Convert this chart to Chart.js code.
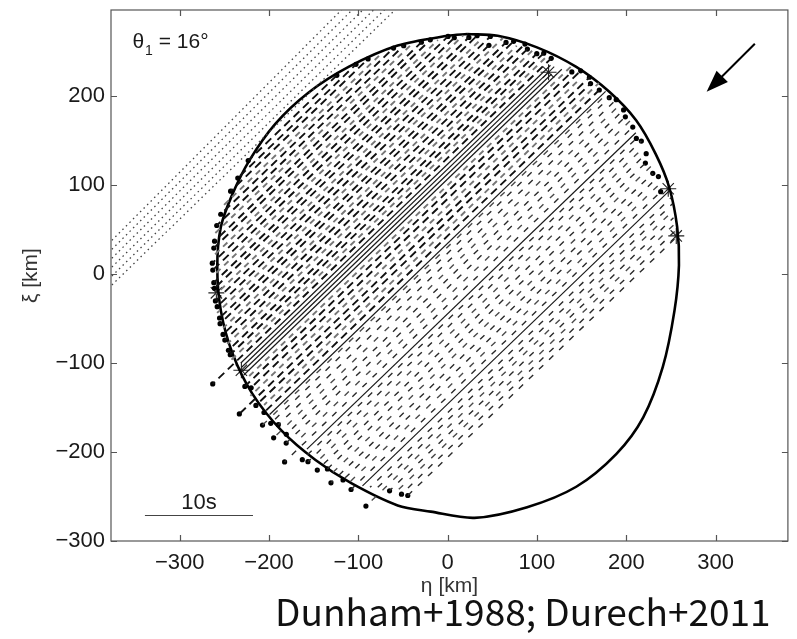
<!DOCTYPE html>
<html>
<head>
<meta charset="utf-8">
<title>Occultation chords</title>
<script src="https://cdn.jsdelivr.net/npm/chart.js@4"></script>
<style>
body{margin:0;background:#fff;}
#wrap{position:relative;width:797px;height:639px;}
#cite{position:absolute;left:275px;top:592px;font-family:"Noto Sans CJK JP","Noto Sans",sans-serif;font-size:37px;line-height:1;color:#111;white-space:nowrap;}
</style>
</head>
<body>
<div id="wrap"><canvas id="c"></canvas><div id="cite">Dunham+1988; Durech+2011</div></div>
<script>
// axis ranges (km)
const ETA_MIN = -377, ETA_MAX = 381;
const XI_MIN = -300, XI_MAX = 297;
const X_TICKS = [-300, -200, -100, 0, 100, 200, 300];
const Y_TICKS = [-300, -200, -100, 0, 100, 200];

// limb profile fitted to the chords (eta, xi in km)
const OUTLINE_ETA = [22, 56, 100, 144, 181, 211, 233, 248, 257, 259, 254, 241, 219, 189, 144, 89, 30, -19, -56, -108, -148, -186, -219, -241, -254, -258, -254, -241, -222, -193, -156, -111, -56, 0, 22];
const OUTLINE_XI  = [270, 268, 255, 233, 205, 173, 135, 98, 53, 10, -41, -104, -161, -202, -239, -262, -274, -267, -260, -235, -209, -176, -134, -89, -41, 8, 53, 90, 128, 169, 204, 233, 257, 268, 270];

// chords, in the track frame: offset across track (d) and start/end along track (t), km
const TRACK_ANGLE = 44; // deg, direction of the chords in the eta-xi plane
const CHORD_D  = [-148, -142, -136, -130, -124, -118, -112, -105,
  -99, -92, -85, -78, -71, -64, -57, -50, -43, -37, -32,
  -25, -18, -11, -4, 3, 10, 17, 22, 25,
  31, 37, 43, 49, 55, 61, 67, 72,
  77, 81, 85, 89,
  94, 99, 104, 109, 115, 120, 126, 131, 137, 142, 148, 153, 159, 164, 170, 175, 181, 186, 192, 197, 203, 208, 214, 219, 225, 230, 236, 241, 247];
const CHORD_T0 = [-205, -209, -213, -216, -247, -225, -229, -234,
  -246, -250, -245, -257, -255, -249, -258, -252, -259, -262, -250,
  -278, -252, -262, -255, -268, -254, -259, -267, -253,
  -256, -250, -257, -277, -254, -247, -251, -245,
  -243, -241, -239, -236,
  -275, -242, -238, -236, -232, -231, -228, -223, -222, -218, -216, -211, -208, -202, -199, -195, -190, -186, -181, -174, -168, -162, -155, -148, -136, -126, -110, -94, -72];
const CHORD_T1 = [212, 217, 221, 226, 231, 236, 240, 244,
  236, 240, 246, 244, 250, 246, 254, 256, 260, 258, 262,
  264, 268, 266, 270, 265, 272, 268, 270, 270,
  266, 271, 264, 268, 260, 266, 258, 263,
  252, 240, 239, 246,
  252, 247, 250, 244, 246, 240, 242, 234, 235, 228, 229, 212, 220, 212, 210, 202, 199, 190, 186, 175, 169, 160, 151, 143, 133, 120, 104, 90, 66];
// s = solid (timed), d = dashed (visual), g = dashed, lower weight
const CHORD_KIND = ['d','d','g','d','g','d','d','s',
  'd','g','d','d','g','d','d','g','d','d','s',
  'd','g','d','d','g','d','d','g','s',
  'd','g','d','d','g','d','d','g',
  's','s','s','s',
  'd','g','d','d','g','d','d','g','d','d','g','d','d','g','d','d','g','d','d','g','d','d','g','d','d','g','d','d','d'];
// timing dots: 0 none, 1 disappearance only, 2 both ends
const CHORD_DOTS = [1,1,0,1,1,0,0,0,
  2,0,2,2,0,2,2,0,2,2,0,
  2,0,2,2,1,2,2,1,0,
  2,0,2,2,0,2,2,0,
  0,0,0,0,
  2,0,2,2,0,2,2,0,2,2,0,2,2,0,2,2,0,2,2,0,2,2,0,2,2,0,2,2,2];

// negative (miss) chords: from the left edge to the top edge
const MISS_ETA_LEFT = -380;
const MISS_XI_LEFT  = [-16, -6, 4, 14, 24, 34];
const MISS_XI_TOP   = 300;
const MISS_ETA_TOP  = [-56, -68, -80, -92, -104, -116];

// asterisks: contact points of timed chords
const STAR_ETA = [113, -259, 247, 256, -231];
const STAR_XI  = [227, -21, 96, 43, -108];

// annotations (data coordinates)
const ARROW_TAIL = [344, 259], ARROW_TIP = [290, 205];
const THETA_POS = [-353, 254];
const SCALE_BAR = [-339, -218, -271]; // eta from, eta to, xi
const SCALE_LABEL = '10s';

const rad = TRACK_ANGLE * Math.PI / 180;
function toEtaXi(d, t) {
  return {x: -Math.sin(rad) * d + Math.cos(rad) * t, y: Math.cos(rad) * d + Math.sin(rad) * t};
}

const datasets = [];
MISS_XI_LEFT.forEach((xi, i) => {
  datasets.push({
    data: [{x: MISS_ETA_LEFT, y: xi}, {x: MISS_ETA_TOP[i], y: MISS_XI_TOP}],
    showLine: true, borderColor: '#444', borderWidth: 1.3, borderDash: [1.5, 3.5],
    pointRadius: 0
  });
});
CHORD_D.forEach((d, i) => {
  const k = CHORD_KIND[i];
  const heavy = d > 26; // crowded northern part of the profile
  let color = '#1a1a1a', width = 1.2, dash = [];
  if (k === 'd') { color = heavy ? '#111' : '#2a2a2a'; width = heavy ? 1.9 : 1.4; dash = heavy ? [8, 5] : [6, 8]; }
  if (k === 'g') { color = heavy ? '#777' : '#4a4a4a'; width = heavy ? 1.9 : 1.4; dash = heavy ? [6, 5] : [6, 9]; }
  datasets.push({
    data: [toEtaXi(d, CHORD_T0[i]), toEtaXi(d, CHORD_T1[i])],
    showLine: true, borderColor: color, borderWidth: width, borderDash: dash,
    borderDashOffset: (i * 5) % 13, pointRadius: 0
  });
});
datasets.push({
  data: OUTLINE_ETA.map((e, i) => ({x: e, y: OUTLINE_XI[i]})),
  showLine: true, borderColor: '#000', borderWidth: 2.6, tension: 0.3,
  pointRadius: 0
});
const dots = [];
CHORD_D.forEach((d, i) => {
  if (CHORD_DOTS[i] >= 1) dots.push(toEtaXi(d, CHORD_T0[i]));
  if (CHORD_DOTS[i] === 2) dots.push(toEtaXi(d, CHORD_T1[i]));
});
datasets.push({
  data: dots, showLine: false, pointRadius: 2.6, pointBackgroundColor: '#000',
  pointBorderWidth: 0
});
datasets.push({
  data: STAR_ETA.map((e, i) => ({x: e, y: STAR_XI[i]})), showLine: false,
  pointStyle: 'star', pointRadius: 8, pointBorderColor: '#222', pointBorderWidth: 1.1
});

const FONT = '"Liberation Sans", Arial, sans-serif';
const minus = v => String(v).replace('-', '\u2212');

const frame = {
  id: 'frame',
  afterDraw(chart) {
    const {ctx, chartArea: a, scales: {x, y}} = chart;
    ctx.save();
    ctx.strokeStyle = '#555';
    ctx.lineWidth = 1.2;
    ctx.strokeRect(a.left, a.top, a.right - a.left, a.bottom - a.top);
    ctx.beginPath();
    x.ticks.forEach(t => {
      const px = Math.round(x.getPixelForValue(t.value)) + 0.5;
      ctx.moveTo(px, a.bottom); ctx.lineTo(px, a.bottom - 6);
      ctx.moveTo(px, a.top); ctx.lineTo(px, a.top + 6);
    });
    y.ticks.forEach(t => {
      const py = Math.round(y.getPixelForValue(t.value)) + 0.5;
      ctx.moveTo(a.left, py); ctx.lineTo(a.left + 6, py);
      ctx.moveTo(a.right, py); ctx.lineTo(a.right - 6, py);
    });
    ctx.stroke();

    // direction of motion
    const tx = x.getPixelForValue(ARROW_TAIL[0]), ty = y.getPixelForValue(ARROW_TAIL[1]);
    const hx = x.getPixelForValue(ARROW_TIP[0]), hy = y.getPixelForValue(ARROW_TIP[1]);
    const ang = Math.atan2(hy - ty, hx - tx);
    ctx.strokeStyle = '#000'; ctx.fillStyle = '#000'; ctx.lineWidth = 2;
    ctx.beginPath(); ctx.moveTo(tx, ty);
    ctx.lineTo(hx - 16 * Math.cos(ang), hy - 16 * Math.sin(ang)); ctx.stroke();
    ctx.beginPath(); ctx.moveTo(hx, hy);
    ctx.lineTo(hx - 22 * Math.cos(ang) + 8 * Math.sin(ang), hy - 22 * Math.sin(ang) - 8 * Math.cos(ang));
    ctx.lineTo(hx - 22 * Math.cos(ang) - 8 * Math.sin(ang), hy - 22 * Math.sin(ang) + 8 * Math.cos(ang));
    ctx.closePath(); ctx.fill();

    // theta_1 label
    let lx = x.getPixelForValue(THETA_POS[0]);
    const ly = y.getPixelForValue(THETA_POS[1]);
    ctx.fillStyle = '#1a1a1a';
    ctx.textBaseline = 'alphabetic';
    ctx.font = '21px ' + FONT;
    ctx.fillText('\u03b8', lx, ly);
    lx += ctx.measureText('\u03b8').width + 1;
    ctx.font = '14px ' + FONT;
    ctx.fillText('1', lx, ly + 7);
    lx += ctx.measureText('1').width;
    ctx.font = '21px ' + FONT;
    ctx.fillText(' = 16\u00b0', lx, ly);

    // time scale bar
    const b0 = x.getPixelForValue(SCALE_BAR[0]), b1 = x.getPixelForValue(SCALE_BAR[1]);
    const by = Math.round(y.getPixelForValue(SCALE_BAR[2])) + 0.5;
    ctx.strokeStyle = '#444'; ctx.lineWidth = 1.2;
    ctx.beginPath(); ctx.moveTo(b0, by); ctx.lineTo(b1, by); ctx.stroke();
    ctx.textAlign = 'center';
    ctx.font = '22px ' + FONT;
    ctx.fillText(SCALE_LABEL, (b0 + b1) / 2, by - 7);
    ctx.restore();
  }
};

const tickFont = {family: FONT, size: 22};
new Chart(document.getElementById('c'), {
  type: 'scatter',
  data: {datasets},
  options: {
    responsive: true, maintainAspectRatio: false, animation: false, devicePixelRatio: 1,
    layout: {padding: {left: 0, right: 4, top: 10, bottom: 40}},
    plugins: {legend: {display: false}, tooltip: {enabled: false}},
    scales: {
      x: {
        type: 'linear', min: ETA_MIN, max: ETA_MAX,
        grid: {display: false, drawTicks: false}, border: {display: false},
        ticks: {autoSkip: false, maxRotation: 0, padding: 9, color: '#1a1a1a', font: tickFont, callback: minus},
        afterBuildTicks(s) { s.ticks = X_TICKS.map(v => ({value: v})); },
        title: {display: true, text: '\u03b7 [km]', color: '#333', font: {family: FONT, size: 21},
          padding: {top: 0, bottom: 0}},
        afterFit(s) { s.height = 58; s.paddingLeft = 0; s.paddingRight = 0; }
      },
      y: {
        type: 'linear', min: XI_MIN, max: XI_MAX,
        grid: {display: false, drawTicks: false}, border: {display: false},
        ticks: {autoSkip: false, padding: 6, color: '#1a1a1a', font: tickFont, callback: minus},
        afterBuildTicks(s) { s.ticks = Y_TICKS.map(v => ({value: v})); },
        title: {display: true, text: '\u03be [km]', color: '#333', font: {family: FONT, size: 21},
          padding: {top: 19, bottom: 0}},
        afterFit(s) { s.width = 111; s.paddingTop = 0; s.paddingBottom = 0; }
      }
    }
  },
  plugins: [frame]
});
</script>
</body>
</html>
